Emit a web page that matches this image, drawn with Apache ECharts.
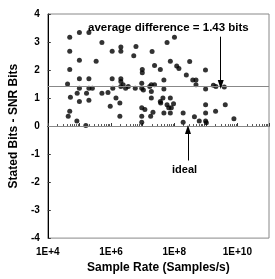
<!DOCTYPE html>
<html>
<head>
<meta charset="utf-8">
<script src="https://cdn.jsdelivr.net/npm/echarts@6/dist/echarts.min.js"></script>
<style>
    html, body { margin: 0; padding: 0; background: #fff; }
    #main { width: 275px; height: 279px; }
</style>
</head>
<body>
<div id="main"></div>
<script>
// sample rates (Samples/s)
var sampleRate = [
    4.95e4, 1.0e5, 2.0e5, 5.16e5, 4.95e4, 1.0e5, 3.39e5, 4.95e4, 1.09e6, 2.05e6,
    2.05e6, 6.17e6, 5.25e6, 2.0e7, 9.77e6, 9.77e6, 2.39e7, 3.64e7, 1.02e8, 5.94e7,
    7.55e7, 1.2e8, 1.41e8, 3.09e8, 9.77e8, 2.42e8, 4.22e4, 1.0e5, 2.0e5, 1.0e5,
    2.0e5, 2.57e5, 5.16e5, 5.2e4, 8.51e4, 1.68e5, 1.0e5, 2.0e5, 4.95e4, 4.43e4,
    8.32e4, 1.6e5, 1.09e6, 2.05e6, 2.05e6, 8.04e5, 1.14e6, 2.05e6, 2.42e6, 2.9e6,
    3.52e6, 5.86e6, 9.4e6, 9.4e6, 1.06e7, 1.68e7, 1.89e7, 2.39e7, 1.89e7, 1.44e6,
    1.91e6, 9.46e5, 1.89e7, 3.64e7, 9.4e6, 1.18e7, 2.13e7, 1.91e6, 9.4e6, 1.8e7,
    9.4e6, 4.72e7, 3.87e8, 4.89e8, 4.89e8, 4.72e7, 9.86e8, 1.74e9, 2.09e9, 4.4e7,
    7.55e7, 3.74e7, 5.94e7, 6.7e7, 8.11e7, 9.53e7, 9.86e8, 4.72e7, 7.55e7, 1.92e8,
    9.86e8, 4.37e8, 6.21e8, 9.86e8, 1.04e9, 1.92e8, 3.85e9, 4.13e9, 2.04e9, 7.76e9
];
// stated bits - SNR bits
var bitsDiff = [
    3.17, 3.34, 3.34, 2.98, 2.67, 2.35, 2.31, 2.02, 2.67, 2.82,
    2.67, 2.84, 2.51, 2.66, 2.02, 1.90, 2.16, 2.02, 3.17, 2.98,
    2.31, 2.14, 2.05, 2.30, 2.00, 1.82, 1.50, 1.69, 1.69, 1.35,
    1.35, 1.35, 1.17, 1.03, 1.17, 1.17, 0.88, 0.92, 0.53, 0.35,
    0.18, 0.02, 1.69, 1.69, 1.59, 1.20, 1.35, 1.41, 1.47, 1.35,
    1.41, 1.35, 1.53, 1.35, 1.29, 1.41, 1.47, 1.47, 1.23, 1.00,
    0.82, 0.71, 1.00, 0.88, 0.65, 0.59, 0.49, 0.35, 0.35, 0.35,
    0.14, 1.64, 1.64, 1.64, 1.47, 1.32, 1.32, 1.46, 1.41, 1.00,
    1.00, 0.82, 0.76, 0.65, 0.65, 0.80, 0.76, 0.47, 0.47, 0.47,
    0.47, 0.33, 0.18, 0.18, 0.12, 0.14, 1.39, 0.76, 0.53, 0.26
];
var yTicks = [-4, 4, 1];
var avgDiff = 1.43;

var points = [];
for (var i = 0; i < sampleRate.length; i++) {
    points.push([sampleRate[i], bitsDiff[i]]);
}

var font = '"Liberation Sans", Arial, sans-serif';

var option = {
    animation: false,
    backgroundColor: '#fff',
    grid: {
        left: 41, top: 14, right: 6, bottom: 38,
        show: true, borderColor: '#888', borderWidth: 1
    },
    xAxis: {
        type: 'log',
        logBase: 10,
        min: 1e4,
        max: 1e11,
        name: 'Sample Rate (Samples/s)',
        nameLocation: 'middle',
        nameGap: 22,
        nameTextStyle: { fontFamily: font, fontWeight: 'bold', fontSize: 12, color: '#000' },
        axisLine: { lineStyle: { color: '#000', width: 1 } },
        axisTick: { show: true, inside: true, length: 3, lineStyle: { color: '#333' } },
        minorTick: { show: true, splitNumber: 9, length: 2, lineStyle: { color: '#555' } },
        splitLine: { show: false },
        axisLabel: {
            margin: 9,
            fontFamily: font, fontWeight: 'bold', fontSize: 10, color: '#000',
            formatter: function (v) {
                var e = Math.round(Math.log10(v));
                return e % 2 === 0 ? '1E+' + e : '';
            }
        }
    },
    yAxis: {
        type: 'value',
        min: yTicks[0],
        max: yTicks[1],
        interval: yTicks[2],
        name: 'Stated Bits - SNR Bits',
        nameLocation: 'middle',
        nameGap: 15,
        nameTextStyle: { fontFamily: font, fontWeight: 'bold', fontSize: 12, color: '#000' },
        axisLine: { show: true, lineStyle: { color: '#000', width: 1 } },
        axisTick: { show: true, inside: true, length: 3, lineStyle: { color: '#333' } },
        splitLine: { show: false },
        axisLabel: { margin: 8, fontFamily: font, fontWeight: 'bold', fontSize: 10, color: '#000' }
    },
    series: [
        {
            type: 'scatter',
            data: points,
            symbolSize: 5,
            itemStyle: { color: '#000' },
            markLine: {
                silent: true,
                symbol: 'none',
                label: { show: false },
                lineStyle: { color: '#888', width: 1, type: 'solid' },
                data: [
                    { yAxis: avgDiff },
                    { yAxis: 0 }
                ]
            },
            z: 3
        },
        {
            // annotation arrows
            type: 'scatter',
            data: [],
            markLine: {
                silent: true,
                label: { show: false },
                symbolSize: [6, 9],
                lineStyle: { color: '#000', width: 1, type: 'solid' },
                data: [
                    [{ coord: [2.97e9, 3.19], symbol: 'none' }, { coord: [2.97e9, 1.48], symbol: 'triangle' }],
                    [{ coord: [2.73e8, -1.23], symbol: 'none' }, { coord: [2.73e8, -0.12], symbol: 'triangle' }]
                ]
            }
        }
    ],
    graphic: [
        {
            type: 'text', left: 88, top: 22,
            style: { text: 'average difference = 1.43 bits', font: 'bold 11.5px ' + font, fill: '#000' }
        },
        {
            type: 'text', left: 172, top: 164,
            style: { text: 'ideal', font: 'bold 11px ' + font, fill: '#000' }
        }
    ]
};

echarts.init(document.getElementById('main')).setOption(option);
</script>
</body>
</html>
